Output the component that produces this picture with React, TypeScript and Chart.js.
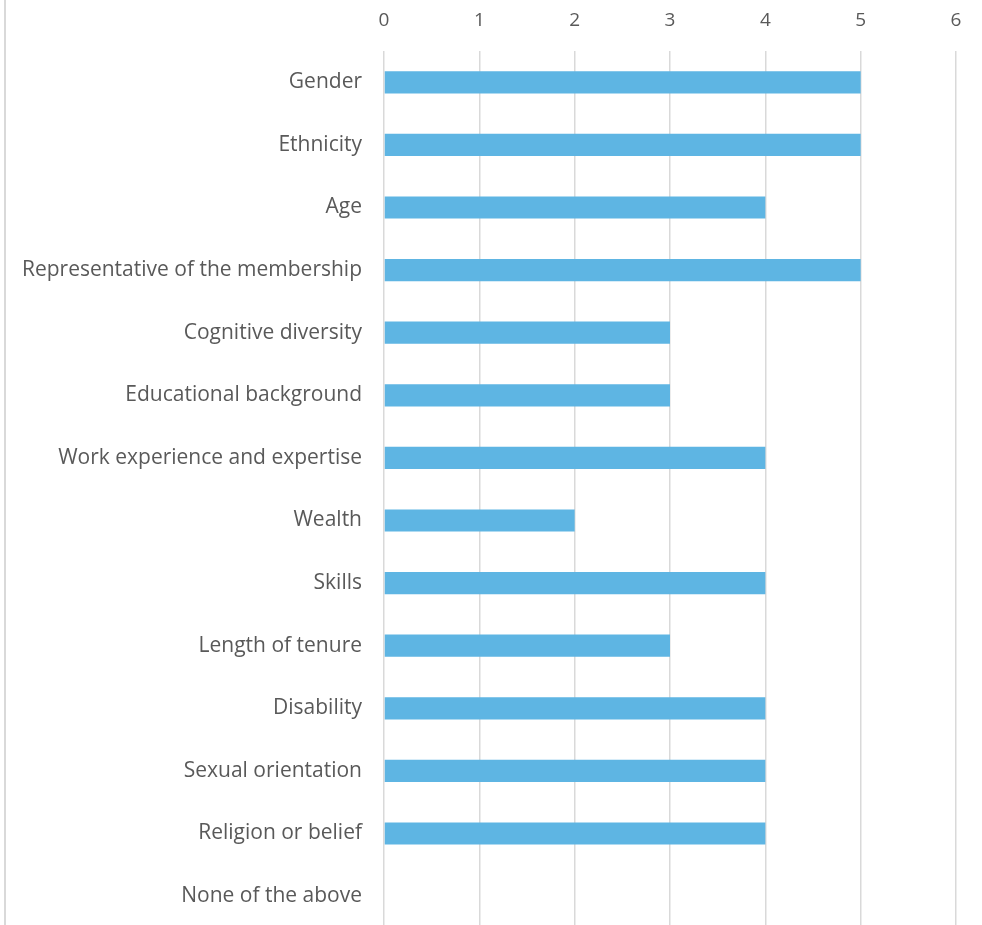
import React, { useEffect, useRef } from "react";
import { Chart, registerables } from "chart.js";

Chart.register(...registerables);

const categories = [
  "Gender",
  "Ethnicity",
  "Age",
  "Representative of the membership",
  "Cognitive diversity",
  "Educational background",
  "Work experience and expertise",
  "Wealth",
  "Skills",
  "Length of tenure",
  "Disability",
  "Sexual orientation",
  "Religion or belief",
  "None of the above",
];

const values = [5, 5, 4, 5, 3, 3, 4, 2, 4, 3, 4, 4, 4, 0];

const xMin = 0;
const xMax = 6;

export default function App() {
  const ref = useRef<HTMLCanvasElement | null>(null);

  useEffect(() => {
    if (!ref.current) return;
    const chart = new Chart(ref.current, {
      type: "bar",
      data: {
        labels: categories,
        datasets: [
          {
            data: values,
            backgroundColor: "#5EB5E3",
            borderWidth: 0,
            categoryPercentage: 1,
            barPercentage: 0.355,
          },
        ],
      },
      options: {
        indexAxis: "y",
        animation: false,
        responsive: false,
        maintainAspectRatio: false,
        layout: { padding: { left: 0, right: 26, top: 0, bottom: 0 } },
        plugins: { legend: { display: false }, tooltip: { enabled: false } },
        scales: {
          x: {
            position: "top",
            min: xMin,
            max: xMax,
            ticks: {
              stepSize: 1,
              color: "#595959",
              font: { family: "Open Sans", size: 19 },
              padding: 19,
            },
            grid: { color: "#d9d9d9", lineWidth: 1.5, drawTicks: false },
            border: { display: false },
            afterFit: (s: any) => {
              s.height = 51;
            },
          },
          y: {
            ticks: {
              color: "#595959",
              font: { family: "Open Sans", size: 21 },
              padding: 22,
              autoSkip: false,
            },
            grid: { display: false, drawTicks: false },
            border: { display: false },
            afterFit: (s: any) => {
              s.width = 384;
            },
          },
        },
      },
    });
    return () => chart.destroy();
  }, []);

  return (
    <div style={{ position: "fixed", left: 0, top: 0, width: 982, height: 925, background: "#fff", overflow: "hidden" }}>
      <canvas ref={ref} width={982} height={962} style={{ position: "absolute", left: 0, top: 0 }} />
      <div style={{ position: "absolute", left: 4, top: 0, width: 2, height: 925, background: "#d9d9d9" }} />
    </div>
  );
}
